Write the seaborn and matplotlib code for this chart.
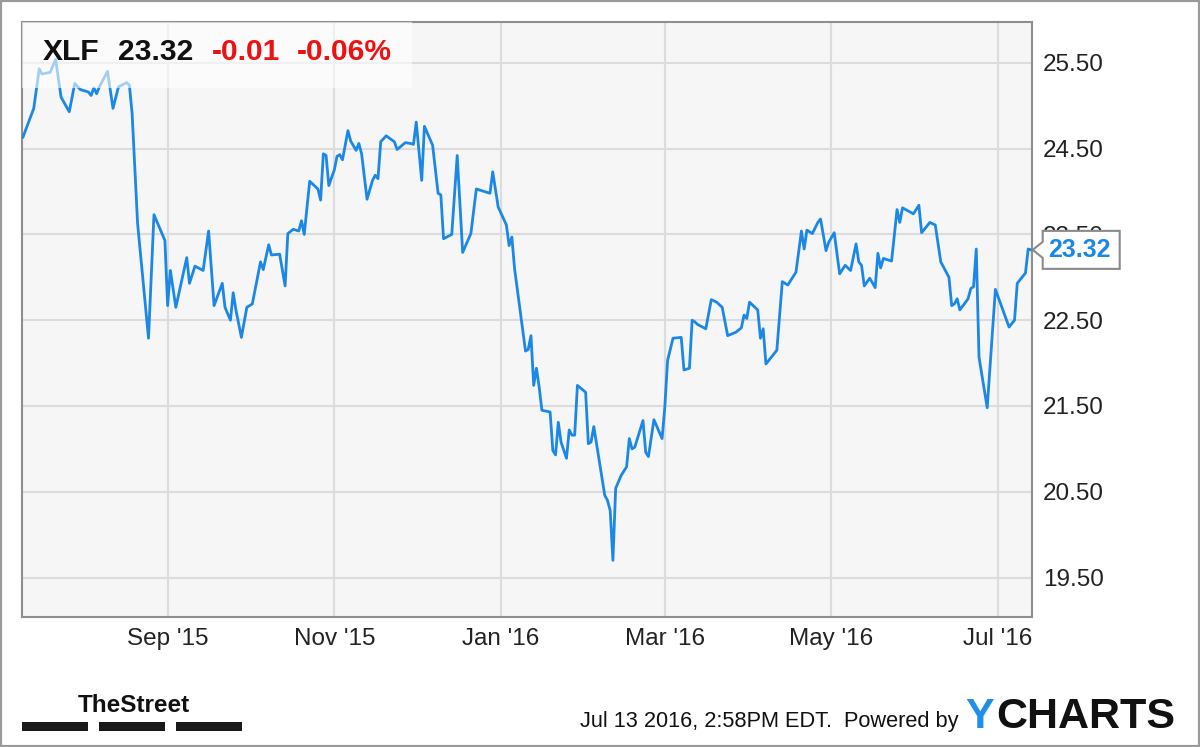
import matplotlib
matplotlib.use("Agg")
import matplotlib.pyplot as plt
import matplotlib.dates as mdates
from matplotlib.patches import Rectangle, Polygon
from matplotlib.transforms import IdentityTransform
import pandas as pd
import seaborn as sns

# ---------------- data ----------------
dates = [
    "2015-07-10", "2015-07-14", "2015-07-16", "2015-07-17", "2015-07-20", "2015-07-22",
    "2015-07-24", "2015-07-27", "2015-07-29", "2015-07-31", "2015-08-03", "2015-08-04",
    "2015-08-05", "2015-08-06", "2015-08-07", "2015-08-10", "2015-08-12", "2015-08-14",
    "2015-08-17", "2015-08-18", "2015-08-19", "2015-08-21", "2015-08-25", "2015-08-27",
    "2015-08-31", "2015-09-01", "2015-09-02", "2015-09-04", "2015-09-08", "2015-09-09",
    "2015-09-11", "2015-09-14", "2015-09-16", "2015-09-18", "2015-09-21", "2015-09-22",
    "2015-09-24", "2015-09-25", "2015-09-26", "2015-09-28", "2015-09-30", "2015-10-02",
    "2015-10-05", "2015-10-06", "2015-10-08", "2015-10-09", "2015-10-12", "2015-10-14",
    "2015-10-15", "2015-10-17", "2015-10-19", "2015-10-20", "2015-10-21", "2015-10-23",
    "2015-10-26", "2015-10-27", "2015-10-28", "2015-10-29", "2015-10-30", "2015-11-01",
    "2015-11-02", "2015-11-03", "2015-11-04", "2015-11-06", "2015-11-07", "2015-11-09",
    "2015-11-10", "2015-11-11", "2015-11-13", "2015-11-15", "2015-11-16", "2015-11-17",
    "2015-11-18", "2015-11-20", "2015-11-23", "2015-11-24", "2015-11-27", "2015-11-29",
    "2015-11-30", "2015-12-01", "2015-12-03", "2015-12-04", "2015-12-07", "2015-12-09",
    "2015-12-10", "2015-12-11", "2015-12-14", "2015-12-16", "2015-12-18", "2015-12-21",
    "2015-12-23", "2015-12-25", "2015-12-28", "2015-12-29", "2015-12-31", "2016-01-03",
    "2016-01-04", "2016-01-05", "2016-01-06", "2016-01-10", "2016-01-11", "2016-01-12",
    "2016-01-13", "2016-01-14", "2016-01-15", "2016-01-16", "2016-01-19", "2016-01-20",
    "2016-01-21", "2016-01-22", "2016-01-23", "2016-01-25", "2016-01-26", "2016-01-27",
    "2016-01-28", "2016-01-29", "2016-02-01", "2016-02-02", "2016-02-03", "2016-02-04",
    "2016-02-08", "2016-02-09", "2016-02-10", "2016-02-11", "2016-02-12", "2016-02-14",
    "2016-02-16", "2016-02-17", "2016-02-18", "2016-02-19", "2016-02-22", "2016-02-23",
    "2016-02-24", "2016-02-26", "2016-02-29", "2016-03-01", "2016-03-02", "2016-03-04",
    "2016-03-07", "2016-03-08", "2016-03-10", "2016-03-11", "2016-03-12", "2016-03-13",
    "2016-03-16", "2016-03-18", "2016-03-20", "2016-03-22", "2016-03-24", "2016-03-27",
    "2016-03-29", "2016-03-30", "2016-03-31", "2016-04-01", "2016-04-04", "2016-04-05",
    "2016-04-06", "2016-04-07", "2016-04-11", "2016-04-13", "2016-04-15", "2016-04-18",
    "2016-04-20", "2016-04-21", "2016-04-22", "2016-04-24", "2016-04-26", "2016-04-27",
    "2016-04-29", "2016-04-30", "2016-05-02", "2016-05-04", "2016-05-06", "2016-05-08",
    "2016-05-10", "2016-05-11", "2016-05-12", "2016-05-13", "2016-05-15", "2016-05-17",
    "2016-05-18", "2016-05-19", "2016-05-20", "2016-05-23", "2016-05-25", "2016-05-26",
    "2016-05-27", "2016-05-31", "2016-06-02", "2016-06-03", "2016-06-06", "2016-06-08",
    "2016-06-10", "2016-06-13", "2016-06-14", "2016-06-15", "2016-06-16", "2016-06-17",
    "2016-06-20", "2016-06-21", "2016-06-22", "2016-06-23", "2016-06-24", "2016-06-27",
    "2016-06-30", "2016-07-05", "2016-07-07", "2016-07-08", "2016-07-11", "2016-07-12",
    "2016-07-13",
]
prices = [
    24.63, 24.97, 25.43, 25.37, 25.39, 25.54,
    25.10, 24.93, 25.26, 25.19, 25.16, 25.12,
    25.21, 25.14, 25.22, 25.40, 24.97, 25.22,
    25.27, 25.24, 24.91, 23.63, 22.29, 23.73,
    23.43, 22.67, 23.08, 22.65, 23.23, 22.93,
    23.13, 23.08, 23.54, 22.67, 22.93, 22.65,
    22.50, 22.82, 22.62, 22.30, 22.65, 22.69,
    23.18, 23.09, 23.38, 23.26, 23.27, 22.90,
    23.51, 23.56, 23.54, 23.66, 23.50, 24.12,
    24.03, 23.90, 24.44, 24.42, 24.07, 24.25,
    24.41, 24.43, 24.37, 24.71, 24.59, 24.48,
    24.56, 24.44, 23.91, 24.13, 24.19, 24.15,
    24.58, 24.65, 24.58, 24.49, 24.57, 24.56,
    24.55, 24.81, 24.13, 24.76, 24.54, 23.98,
    23.96, 23.45, 23.50, 24.42, 23.29, 23.51,
    24.03, 24.01, 23.98, 24.23, 23.82, 23.61,
    23.37, 23.47, 23.10, 22.14, 22.16, 22.32,
    21.74, 21.94, 21.72, 21.45, 21.43, 20.98,
    20.93, 21.31, 21.08, 20.89, 21.22, 21.16,
    21.16, 21.74, 21.66, 21.06, 21.08, 21.26,
    20.46, 20.40, 20.28, 19.70, 20.54, 20.69,
    20.79, 21.12, 21.00, 21.02, 21.33, 20.96,
    20.91, 21.34, 21.12, 21.49, 22.03, 22.29,
    22.30, 21.92, 21.94, 22.50, 22.48, 22.45,
    22.40, 22.74, 22.71, 22.65, 22.32, 22.36,
    22.41, 22.56, 22.52, 22.71, 22.62, 22.29,
    22.40, 21.99, 22.15, 22.95, 22.91, 23.06,
    23.54, 23.33, 23.55, 23.51, 23.64, 23.68,
    23.31, 23.41, 23.52, 23.04, 23.14, 23.08,
    23.39, 23.18, 23.14, 22.90, 22.99, 22.88,
    23.28, 23.11, 23.22, 23.19, 23.79, 23.64,
    23.81, 23.74, 23.84, 23.52, 23.64, 23.61,
    23.18, 23.00, 22.67, 22.69, 22.75, 22.62,
    22.75, 22.87, 22.89, 23.33, 22.07, 21.48,
    22.86, 22.42, 22.50, 22.93, 23.05, 23.33,
    23.32,
]
ticker = "XLF"
last_price_text = "23.32"
change_text = "-0.01"
change_pct_text = "-0.06%"
x_tick_dates = ["2015-09-01", "2015-11-01", "2016-01-01", "2016-03-01", "2016-05-01", "2016-07-01"]
x_tick_labels = ["Sep '15", "Nov '15", "Jan '16", "Mar '16", "May '16", "Jul '16"]
y_ticks = [19.5, 20.5, 21.5, 22.5, 23.5, 24.5, 25.5]
y_tick_labels = ["19.50", "20.50", "21.50", "22.50", "23.50", "24.50", "25.50"]
x_range = ["2015-07-09 14:00", "2016-07-13 07:00"]
y_range = [19.04, 25.98]
timestamp_text = "Jul 13 2016, 2:58PM EDT.  Powered by"

# ---------------- style ----------------
sns.set_style("white")
plt.rcParams["font.family"] = ["Liberation Sans", "DejaVu Sans"]

LINE = "#1b87e6"
GRID = "#dcdcdc"
SPINE = "#8e8e8e"
TXT = "#222222"

W, H = 1200, 747
fig = plt.figure(figsize=(W / 100, H / 100), dpi=100)
fig.patch.set_facecolor("white")


def fx(px):
    return px / W


def fy(py):
    return 1 - py / H


ax = fig.add_axes([fx(21.7), fy(617), (1031.7 - 21.7) / W, (617 - 21.7) / H])
ax.set_facecolor("#f6f6f6")

df = pd.DataFrame({"date": pd.to_datetime(dates), "price": prices})
sns.lineplot(data=df, x="date", y="price", ax=ax, color=LINE, linewidth=2.0,
             estimator=None, zorder=3)

ax.set_xlim(pd.Timestamp(x_range[0]), pd.Timestamp(x_range[1]))
ax.set_ylim(*y_range)
ax.set_xlabel("")
ax.set_ylabel("")

ax.set_xticks(pd.to_datetime(x_tick_dates))
ax.set_xticklabels(x_tick_labels)
ax.set_yticks(y_ticks)
ax.set_yticklabels(y_tick_labels)
ax.yaxis.tick_right()
ax.tick_params(axis="both", length=0, labelsize=17.5, colors=TXT)
ax.tick_params(axis="x", pad=8)
ax.tick_params(axis="y", pad=8)
ax.grid(True, color=GRID, linewidth=1.5, zorder=0)
ax.set_axisbelow(True)
for s in ax.spines.values():
    s.set_visible(True)
    s.set_color(SPINE)
    s.set_linewidth(1.5)

# header box (semi-transparent, over the line)
ax.add_patch(Rectangle((fx(22), fy(88)), fx(412) - fx(22), fy(22) - fy(88),
                       transform=fig.transFigure, facecolor="white", alpha=0.6,
                       edgecolor="none", zorder=5))
fig.text(fx(43), fy(60), ticker, fontsize=21.6, fontweight="bold", color="#111111", va="baseline", zorder=6)
fig.text(fx(118), fy(60), last_price_text, fontsize=21.6, fontweight="bold", color="#111111", va="baseline", zorder=6)
fig.text(fx(212), fy(60), change_text, fontsize=21.6, fontweight="bold", color="#ee1111", va="baseline", zorder=6)
fig.text(fx(297), fy(60), change_pct_text, fontsize=21.6, fontweight="bold", color="#ee1111", va="baseline", zorder=6)

# last-value flag on the right axis (covers the 23.50 label like the original)
last_val = prices[-1]
xr_disp = ax.transAxes.transform((1, 0))[0]
y_disp = ax.transData.transform((mdates.date2num(pd.Timestamp(dates[-1])), last_val))[1]
tip_x = xr_disp + 1
bx0 = tip_x + 10
bx1 = bx0 + 77
hh = 19
pts = [(tip_x, y_disp), (bx0, y_disp + 8), (bx0, y_disp + hh), (bx1, y_disp + hh),
       (bx1, y_disp - hh), (bx0, y_disp - hh), (bx0, y_disp - 8)]
fig.patches.append(Polygon(pts, closed=True, transform=IdentityTransform(),
                           facecolor="white", edgecolor="#8a8a8a", linewidth=1.5, zorder=10))
fig.text(bx0 + 5, y_disp, last_price_text, transform=IdentityTransform(), fontsize=18,
         fontweight="bold", color=LINE, va="center", ha="left", zorder=11)

# footer
fig.text(fx(78), fy(712), "TheStreet", fontsize=17.5, fontweight="bold",
         color="#111111", va="baseline")
for x0, x1 in [(22, 88), (99, 165), (176, 242)]:
    fig.patches.append(Rectangle((fx(x0), fy(731)), fx(x1) - fx(x0), fy(722) - fy(731),
                                 transform=fig.transFigure, facecolor="#1a1a1a", edgecolor="none"))
fig.text(fx(958), fy(727), timestamp_text, fontsize=15.7, color="#111111",
         va="baseline", ha="right")
fig.text(fx(965), fy(728), "Y", fontsize=31, fontweight="bold", color="#1e90ea", va="baseline")
fig.text(fx(996), fy(728), "CHARTS", fontsize=31, fontweight="bold", color="#111111", va="baseline")

# outer frame
fig.patches.append(Rectangle((0, 0), 1, 1, transform=fig.transFigure, fill=False,
                             edgecolor="#9a9a9a", linewidth=3))

fig.savefig("out.png", dpi=100)
